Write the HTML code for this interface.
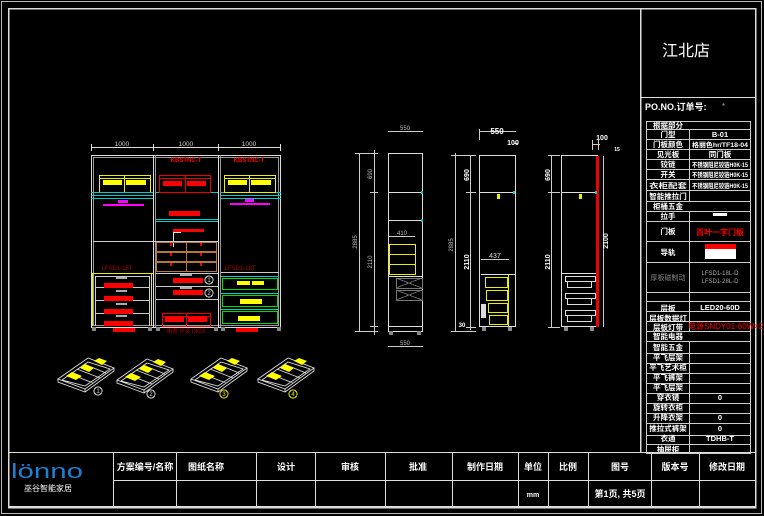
<!DOCTYPE html>
<html><head><meta charset="utf-8"><style>
html,body{margin:0;padding:0;background:#000;}
svg{display:block;}
text{font-family:"Liberation Sans","Noto Sans CJK SC",sans-serif;}
</style></head><body>
<svg width="764" height="516" viewBox="0 0 764 516" xmlns="http://www.w3.org/2000/svg" shape-rendering="crispEdges">
<rect width="764" height="516" fill="#000"/>
<rect x="1.5" y="1.5" width="760" height="512" fill="none" stroke="#bbb" stroke-width="1"/>
<rect x="8.5" y="8.5" width="747" height="499" fill="none" stroke="#ddd" stroke-width="1.5"/>
<line x1="640.5" y1="8" x2="640.5" y2="452" stroke="#ddd" stroke-width="1.5"/>
<line x1="640" y1="97.5" x2="756" y2="97.5" stroke="#ddd"/>
<text x="686" y="56" fill="#fff" font-size="16" text-anchor="middle">江北店</text>
<text x="645" y="110" fill="#fff" font-size="9" font-weight="bold">PO.NO.订单号:</text>
<text x="722" y="109" fill="#aaa" font-size="8">*</text>

<g stroke="#ccc" stroke-width="0.8" fill="none">
<rect x="646.5" y="121.5" width="104" height="332"/>
</g>
<g stroke="#ccc" stroke-width="0.8">
<line x1="646" y1="129.5" x2="750" y2="129.5"/><line x1="646" y1="139.5" x2="750" y2="139.5"/><line x1="646" y1="149.5" x2="750" y2="149.5"/><line x1="646" y1="159.5" x2="750" y2="159.5"/><line x1="646" y1="169.5" x2="750" y2="169.5"/><line x1="646" y1="179.5" x2="750" y2="179.5"/><line x1="646" y1="190.5" x2="750" y2="190.5"/><line x1="646" y1="201.5" x2="750" y2="201.5"/><line x1="646" y1="211.5" x2="750" y2="211.5"/><line x1="646" y1="221.5" x2="750" y2="221.5"/><line x1="646" y1="241.5" x2="750" y2="241.5"/><line x1="646" y1="262.5" x2="750" y2="262.5"/><line x1="646" y1="292.5" x2="750" y2="292.5"/><line x1="646" y1="301.5" x2="750" y2="301.5"/><line x1="646" y1="311.5" x2="750" y2="311.5"/><line x1="646" y1="321.5" x2="750" y2="321.5"/><line x1="646" y1="331.5" x2="750" y2="331.5"/><line x1="646" y1="341.5" x2="750" y2="341.5"/><line x1="646" y1="353.5" x2="750" y2="353.5"/><line x1="646" y1="363.5" x2="750" y2="363.5"/><line x1="646" y1="373.5" x2="750" y2="373.5"/><line x1="646" y1="383.5" x2="750" y2="383.5"/><line x1="646" y1="393.5" x2="750" y2="393.5"/><line x1="646" y1="403.5" x2="750" y2="403.5"/><line x1="646" y1="413.5" x2="750" y2="413.5"/><line x1="646" y1="423.5" x2="750" y2="423.5"/><line x1="646" y1="435.5" x2="750" y2="435.5"/><line x1="646" y1="444.5" x2="750" y2="444.5"/>
<line x1="689.5" y1="129" x2="689.5" y2="201"/><line x1="689.5" y1="211" x2="689.5" y2="331"/><line x1="689.5" y1="341" x2="689.5" y2="453"/>
</g>
<g fill="#fff" font-size="7.5" font-weight="bold" text-anchor="middle">
<text x="668" y="128">根据部分</text>
<text x="668" y="137">门型</text><text x="720" y="137">B-01</text>
<text x="668" y="147">门板颜色</text><text x="720" y="147" font-size="6.5" textLength="56" lengthAdjust="spacingAndGlyphs">格丽色hr/TF18-04</text>
<text x="668" y="157">见光板</text><text x="720" y="157">同门板</text>
<text x="668" y="167">铰链</text><text x="720" y="167" font-size="6.5" textLength="56" lengthAdjust="spacingAndGlyphs">不锈钢阻尼铰链H0K-15</text>
<text x="668" y="177">开关</text><text x="720" y="177" font-size="6.5" textLength="56" lengthAdjust="spacingAndGlyphs">不锈钢阻尼铰链H0K-15</text>
<text x="668" y="188" font-size="7" textLength="38" lengthAdjust="spacingAndGlyphs">衣柜配套</text><text x="720" y="188" font-size="6.5" textLength="56" lengthAdjust="spacingAndGlyphs">不锈钢阻尼铰链H0K-15</text>
<text x="668" y="199">智能推拉门</text>
<text x="668" y="209">柜桶五金</text>
<text x="668" y="219">拉手</text>
<text x="668" y="234">门板</text>
<text x="668" y="255">导轨</text>
<text x="668" y="311">层板</text><text x="720" y="310">LED20-60D</text>
<text x="668" y="321">层板数据灯</text>
<text x="668" y="330">层板灯带</text>
<text x="668" y="339">智能电器</text>
<text x="668" y="350">智能五金</text>
<text x="668" y="360">平飞层架</text>
<text x="668" y="370">平飞艺术柜</text>
<text x="668" y="380">平飞裤架</text>
<text x="668" y="390">平飞层架</text>
<text x="668" y="400">穿衣镜</text><text x="720" y="400">0</text>
<text x="668" y="410">旋转衣柜</text>
<text x="668" y="420">升降衣架</text><text x="720" y="420">0</text>
<text x="668" y="431">推拉式裤架</text><text x="720" y="431">0</text>
<text x="668" y="441">衣通</text><text x="720" y="441">TDHB-T</text>
<text x="668" y="452">抽屉柜</text>
</g>
<rect x="713" y="213" width="14" height="3" fill="#fff"/>
<text x="720" y="235" fill="#f00" font-size="8" font-weight="bold" text-anchor="middle">百叶一字门板</text>
<rect x="705" y="244" width="31" height="5" fill="#f00"/>
<rect x="705" y="249" width="31" height="10" fill="#fff"/>
<text x="668" y="280" fill="#888" font-size="7" text-anchor="middle">厚板磁制动</text>
<text x="720" y="275" fill="#aaa" font-size="6" text-anchor="middle">LFSD1-18L-D</text>
<text x="720" y="283" fill="#aaa" font-size="6" text-anchor="middle">LFSD1-28L-D</text>
<text x="688" y="329" fill="#f00" font-size="8">电源SNDY01-60W×2</text>

<g stroke="#ddd" stroke-width="1" fill="none">
<rect x="8.5" y="452.5" width="747" height="54"/>
<line x1="113" y1="480.5" x2="755" y2="480.5"/>
<line x1="113.5" y1="452" x2="113.5" y2="506"/><line x1="176.5" y1="452" x2="176.5" y2="506"/><line x1="256.5" y1="452" x2="256.5" y2="506"/><line x1="315.5" y1="452" x2="315.5" y2="506"/><line x1="385.5" y1="452" x2="385.5" y2="506"/><line x1="452.5" y1="452" x2="452.5" y2="506"/><line x1="518.5" y1="452" x2="518.5" y2="506"/><line x1="548.5" y1="452" x2="548.5" y2="506"/><line x1="588.5" y1="452" x2="588.5" y2="506"/><line x1="651.5" y1="452" x2="651.5" y2="506"/><line x1="699.5" y1="452" x2="699.5" y2="506"/>
</g>
<g fill="#fff" font-size="9" font-weight="bold" text-anchor="middle">
<text x="145" y="470">方案编号/名称</text><text x="206" y="470">图纸名称</text><text x="286" y="470">设计</text><text x="350" y="470">审核</text><text x="418" y="470">批准</text><text x="485" y="470">制作日期</text><text x="533" y="470">单位</text><text x="568" y="470">比例</text><text x="620" y="470">图号</text><text x="675" y="470">版本号</text><text x="727" y="470">修改日期</text>
<text x="533" y="497" font-size="7">mm</text><text x="620" y="497">第1页, 共5页</text>
</g>
<text x="11" y="478" fill="#1e7fd0" font-size="20" textLength="72" lengthAdjust="spacingAndGlyphs">lönno</text>
<text x="48" y="491" fill="#fff" font-size="8" text-anchor="middle">巫谷智能家居</text>

<g stroke="#ddd" stroke-width="0.8">
<line x1="91" y1="147.5" x2="281" y2="147.5"/>
<line x1="91.5" y1="144" x2="91.5" y2="151"/><line x1="153.5" y1="144" x2="153.5" y2="151"/><line x1="218.5" y1="144" x2="218.5" y2="151"/><line x1="280.5" y1="144" x2="280.5" y2="151"/>
</g>
<g fill="#ccc" font-size="6.5" text-anchor="middle"><text x="122" y="146">1000</text><text x="186" y="146">1000</text><text x="249" y="146">1000</text></g>
<g fill="none" stroke="#ddd" stroke-width="1">
<rect x="91.5" y="155.5" width="189" height="172"/>
<rect x="93.5" y="157.5" width="185" height="168" stroke="#999"/>
<line x1="153.5" y1="155" x2="153.5" y2="327"/><line x1="155.5" y1="155" x2="155.5" y2="327" stroke="#999"/>
<line x1="218.5" y1="155" x2="218.5" y2="327"/><line x1="220.5" y1="155" x2="220.5" y2="327" stroke="#999"/>
</g>
<g fill="none" stroke="#ee0" stroke-width="1"><rect x="99.5" y="175.5" width="51" height="17"/><line x1="124.5" y1="175" x2="124.5" y2="192"/><line x1="99" y1="178.5" x2="150" y2="178.5"/></g>
<rect x="103" y="180" width="19" height="5" fill="#ff0"/><rect x="126" y="180" width="20" height="5" fill="#ff0"/>
<g stroke="#0cc" stroke-width="1"><line x1="91" y1="192.5" x2="153" y2="192.5"/><line x1="91" y1="195.5" x2="153" y2="195.5"/><line x1="91" y1="198.5" x2="153" y2="198.5"/>
<line x1="221" y1="192.5" x2="281" y2="192.5"/><line x1="221" y1="195.5" x2="281" y2="195.5"/><line x1="221" y1="198.5" x2="281" y2="198.5"/>
<line x1="156" y1="192.5" x2="218" y2="192.5"/><line x1="156" y1="219.5" x2="218" y2="219.5"/><line x1="156" y1="221.5" x2="218" y2="221.5"/></g>
<rect x="118" y="200" width="10" height="3" fill="#f0f"/><rect x="103" y="204" width="41" height="2" fill="#f0f"/>
<rect x="245" y="199" width="9" height="3" fill="#f0f"/><rect x="230" y="203" width="40" height="2" fill="#f0f"/>
<text x="186" y="162" fill="#f00" font-size="6" font-weight="bold" text-anchor="middle">KBSTNC-T</text>
<text x="249" y="162" fill="#f00" font-size="6" font-weight="bold" text-anchor="middle">KBSTNC-T</text>
<g fill="none" stroke="#e00" stroke-width="1"><rect x="159.5" y="175.5" width="51" height="17"/><line x1="185.5" y1="175" x2="185.5" y2="192"/><line x1="159" y1="178.5" x2="210" y2="178.5"/></g>
<rect x="163" y="181" width="19" height="5" fill="#f00"/><rect x="187" y="181" width="19" height="5" fill="#f00"/>
<rect x="169" y="211" width="31" height="5" fill="#f00"/>
<rect x="173" y="229" width="31" height="3" fill="#f00"/>
<path d="M173.5 247 V232.5 H181" stroke="#ddd" fill="none"/>
<g fill="none" stroke="#ee0" stroke-width="1"><rect x="224.5" y="175.5" width="51" height="17"/><line x1="249.5" y1="175" x2="249.5" y2="192"/><line x1="224" y1="178.5" x2="275" y2="178.5"/></g>
<rect x="228" y="180" width="19" height="5" fill="#ff0"/><rect x="251" y="180" width="20" height="5" fill="#ff0"/>
<g fill="none" stroke="#b8743a" stroke-width="1.2"><rect x="156.5" y="242.5" width="60" height="9"/><rect x="156.5" y="252.5" width="60" height="9"/><rect x="156.5" y="262.5" width="60" height="9"/><line x1="186.5" y1="242" x2="186.5" y2="272"/></g>
<g fill="#e00"><rect x="170" y="243" width="2" height="3"/><rect x="200" y="243" width="2" height="3"/><rect x="170" y="253" width="2" height="3"/><rect x="200" y="253" width="2" height="3"/><rect x="170" y="263" width="2" height="3"/><rect x="200" y="263" width="2" height="3"/></g>
<g stroke="#ccc" stroke-width="1"><line x1="93" y1="241.5" x2="218" y2="241.5"/><line x1="156" y1="273.5" x2="218" y2="273.5"/><line x1="156" y1="286.5" x2="218" y2="286.5"/><line x1="156" y1="299.5" x2="218" y2="299.5"/><line x1="221" y1="272.5" x2="279" y2="272.5"/></g>
<rect x="173" y="278" width="30" height="5" fill="#f00"/><rect x="173" y="290" width="30" height="5" fill="#f00"/>
<rect x="180" y="274" width="12" height="2" fill="#aaa"/><rect x="180" y="287" width="12" height="2" fill="#aaa"/>
<g fill="none" stroke="#ddd"><circle cx="209" cy="280" r="4"/><circle cx="209" cy="293" r="4"/></g>
<g fill="#ddd" font-size="6" text-anchor="middle"><text x="209" y="282">1</text><text x="209" y="295">2</text></g>
<g fill="none" stroke="#e00" stroke-width="1"><rect x="162.5" y="313.5" width="48" height="13"/><line x1="186.5" y1="313" x2="186.5" y2="327"/><line x1="162" y1="316.5" x2="210" y2="316.5"/></g>
<rect x="165" y="317" width="19" height="5" fill="#f00"/><rect x="188" y="317" width="19" height="5" fill="#f00"/>
<text x="186" y="333" fill="#a00" font-size="5.5" text-anchor="middle">电表 开关 DK06</text>
<text x="117" y="270" fill="#a00" font-size="6" text-anchor="middle">LFSD1-18T</text>
<text x="240" y="270" fill="#a00" font-size="6" text-anchor="middle">LFSD1-18T</text>
<g fill="none" stroke="#ee0" stroke-width="1.2"><line x1="91" y1="273.5" x2="153" y2="273.5"/><line x1="92.5" y1="273" x2="92.5" y2="326"/><line x1="151.5" y1="273" x2="151.5" y2="326"/></g>
<g stroke="#ccc" stroke-width="1"><line x1="95" y1="276.5" x2="150" y2="276.5"/><line x1="95" y1="287.5" x2="150" y2="287.5"/><line x1="95" y1="300.5" x2="150" y2="300.5"/><line x1="95" y1="313.5" x2="150" y2="313.5"/><line x1="95.5" y1="276" x2="95.5" y2="326"/><line x1="149.5" y1="276" x2="149.5" y2="326"/></g>
<g fill="#f00"><rect x="104" y="283" width="29" height="5"/><rect x="104" y="296" width="29" height="5"/><rect x="104" y="309" width="29" height="5"/><rect x="104" y="321" width="29" height="5"/></g>
<g fill="#aaa"><rect x="116" y="277" width="11" height="2"/><rect x="116" y="290" width="11" height="2"/><rect x="116" y="303" width="11" height="2"/><rect x="116" y="315" width="11" height="2"/></g>
<g fill="none" stroke="#0d0" stroke-width="1.2"><rect x="222.5" y="278.5" width="55" height="11"/><rect x="222.5" y="295.5" width="55" height="11"/><rect x="222.5" y="311.5" width="55" height="12"/></g>
<g stroke="#0cc" stroke-width="1.2"><line x1="221" y1="276.5" x2="279" y2="276.5"/><line x1="221" y1="293.5" x2="279" y2="293.5"/><line x1="221" y1="309.5" x2="279" y2="309.5"/></g>
<g fill="#ff0"><rect x="237" y="281" width="13" height="4"/><rect x="252" y="281" width="12" height="4"/><rect x="240" y="299" width="22" height="5"/><rect x="238" y="316" width="22" height="5"/></g>
<g fill="#888"><rect x="92" y="327" width="4" height="4"/><rect x="148" y="327" width="4" height="4"/><rect x="156" y="327" width="4" height="4"/><rect x="214" y="327" width="4" height="4"/><rect x="221" y="327" width="4" height="4"/><rect x="277" y="327" width="4" height="4"/></g>
<rect x="113" y="328" width="22" height="4" fill="#f00"/><rect x="236" y="328" width="22" height="4" fill="#f00"/>

<g stroke="#ccc" stroke-width="0.8" fill="none">
<line x1="388" y1="131.5" x2="423" y2="131.5"/><line x1="388" y1="346.5" x2="423" y2="346.5"/>
<line x1="359.5" y1="153" x2="359.5" y2="332"/><line x1="374.5" y1="150" x2="374.5" y2="335"/>
<line x1="355" y1="153.5" x2="378" y2="153.5"/><line x1="355" y1="331.5" x2="378" y2="331.5"/><line x1="370" y1="192.5" x2="378" y2="192.5"/><line x1="370" y1="326.5" x2="378" y2="326.5"/>
<line x1="389" y1="236.5" x2="415" y2="236.5"/>
</g>
<g fill="#bbb" font-size="6" text-anchor="middle"><text x="405" y="130">550</text><text x="405" y="345">550</text><text x="402" y="235">410</text></g>
<g fill="#bbb" font-size="6" text-anchor="middle">
<text transform="translate(357,242) rotate(-90)">2885</text>
<text transform="translate(372,174) rotate(-90)">690</text>
<text transform="translate(372,262) rotate(-90)">2110</text>
</g>
<g stroke="#ddd" stroke-width="1" fill="none"><rect x="388.5" y="153.5" width="34" height="178"/><line x1="388" y1="192.5" x2="423" y2="192.5"/><line x1="388" y1="220.5" x2="423" y2="220.5"/><line x1="388" y1="326.5" x2="423" y2="326.5"/><line x1="388" y1="276.5" x2="423" y2="276.5"/></g>
<rect x="421" y="191" width="2" height="3" fill="#0cc"/><rect x="421" y="219" width="2" height="3" fill="#0cc"/>
<g fill="none" stroke="#ee0" stroke-width="1.3"><rect x="389.5" y="244.5" width="26" height="30"/><line x1="389" y1="254.5" x2="415" y2="254.5"/><line x1="389" y1="264.5" x2="415" y2="264.5"/></g>
<g fill="none" stroke="#777" stroke-width="0.8"><rect x="396.5" y="278.5" width="26" height="10"/><path d="M396 278 L422 288 M422 278 L396 288"/><rect x="396.5" y="290.5" width="26" height="10"/><path d="M396 290 L422 300 M422 290 L396 300"/></g>

<g stroke="#ccc" stroke-width="0.8" fill="none">
<line x1="479" y1="131.5" x2="516" y2="131.5"/><line x1="479.5" y1="129" x2="479.5" y2="140"/><line x1="514" y1="143.5" x2="518" y2="143.5"/>
<line x1="455.5" y1="153" x2="455.5" y2="332"/><line x1="470.5" y1="155" x2="470.5" y2="330"/>
<line x1="451" y1="155.5" x2="476" y2="155.5"/><line x1="451" y1="331.5" x2="476" y2="331.5"/><line x1="466" y1="192.5" x2="476" y2="192.5"/><line x1="466" y1="327.5" x2="476" y2="327.5"/>
<line x1="481" y1="259.5" x2="509" y2="259.5"/>
</g>
<g fill="#fff" font-size="8" text-anchor="middle" font-weight="bold"><text x="497" y="134">550</text><text x="513" y="145" font-size="7">100</text>
<text transform="translate(469,175) rotate(-90)" font-size="7">690</text><text transform="translate(469,262) rotate(-90)" font-size="7">2110</text><text x="462" y="327" font-size="6">30</text></g>
<text transform="translate(453,245) rotate(-90)" fill="#bbb" font-size="6" text-anchor="middle">2885</text>
<text x="495" y="258" fill="#ddd" font-size="7" text-anchor="middle">437</text>
<g stroke="#ddd" stroke-width="1" fill="none"><rect x="479.5" y="155.5" width="36" height="171"/><line x1="479" y1="192.5" x2="516" y2="192.5"/><line x1="481" y1="274.5" x2="516" y2="274.5"/></g>
<rect x="513" y="191" width="2" height="3" fill="#0cc"/><rect x="497" y="194" width="3" height="5" fill="#ee0"/>
<g fill="none" stroke="#ee0" stroke-width="1.3"><rect x="485.5" y="277.5" width="22" height="10"/><rect x="486.5" y="290.5" width="21" height="10"/><rect x="488.5" y="303.5" width="19" height="9"/><rect x="489.5" y="315.5" width="18" height="9"/><line x1="508.5" y1="275" x2="508.5" y2="326"/></g>
<rect x="481" y="304" width="5" height="14" fill="#ddd"/>
<g fill="#888"><rect x="482" y="327" width="4" height="4"/><rect x="508" y="327" width="4" height="4"/><rect x="389" y="331" width="4" height="4"/><rect x="417" y="331" width="4" height="4"/></g>

<g stroke="#ccc" stroke-width="0.8" fill="none">
<line x1="551.5" y1="156" x2="551.5" y2="327"/><line x1="603.5" y1="156" x2="603.5" y2="327"/>
<line x1="548" y1="155.5" x2="560" y2="155.5"/><line x1="548" y1="192.5" x2="560" y2="192.5"/><line x1="548" y1="327.5" x2="560" y2="327.5"/>
<line x1="592.5" y1="140" x2="592.5" y2="150"/><line x1="598.5" y1="140" x2="598.5" y2="150"/><line x1="592" y1="144.5" x2="600" y2="144.5"/>
</g>
<g fill="#fff" font-size="7" text-anchor="middle" font-weight="bold"><text x="602" y="140">100</text>
<text transform="translate(550,175) rotate(-90)">690</text><text transform="translate(550,262) rotate(-90)">2110</text><text transform="translate(608,241) rotate(-90)">2100</text><text x="617" y="151" font-size="5">15</text></g>
<g stroke="#ddd" stroke-width="1" fill="none"><rect x="561.5" y="155.5" width="36" height="171"/><line x1="561" y1="192.5" x2="598" y2="192.5"/><line x1="561" y1="273.5" x2="597" y2="273.5"/></g>
<rect x="596" y="156" width="3" height="171" fill="#e00"/>
<rect x="595" y="191" width="2" height="3" fill="#0cc"/><rect x="579" y="194" width="3" height="5" fill="#ee0"/>
<g fill="none" stroke="#ddd" stroke-width="1"><rect x="565.5" y="276.5" width="30" height="5"/><rect x="567.5" y="281.5" width="24" height="6"/><rect x="565.5" y="293.5" width="30" height="5"/><rect x="567.5" y="298.5" width="24" height="6"/><rect x="565.5" y="310.5" width="30" height="5"/><rect x="567.5" y="315.5" width="24" height="6"/></g>
<g fill="#888"><rect x="564" y="327" width="4" height="4"/><rect x="590" y="327" width="4" height="4"/></g>

<g fill="none" stroke="#ddd" stroke-width="0.9" shape-rendering="auto">
<g id="t1" transform="translate(58,358)">
<path d="M0 21 L30 0 L56 10 L27 31 Z M4 22 L30 4 L52 11 L27 28 Z M12 16 L35 25 M19 11 L42 20 M26 6 L48 15"/>
<path d="M0 21 v3 L27 34 v-3 M27 34 L56 13 v-3"/>
</g>
<use href="#t1" x="59" y="1"/><use href="#t1" x="133" y="0"/><use href="#t1" x="200" y="0"/>
</g>
<g fill="#ff0" shape-rendering="auto">
<g id="y1"><polygon points="66,376 72,372 82,376 76,380"/><polygon points="80,368 85,364 94,368 89,372"/><polygon points="94,361 99,358 107,361 102,365"/></g>
<use href="#y1" x="59" y="1"/><use href="#y1" x="133" y="0"/><use href="#y1" x="200" y="0"/>
</g>
<g fill="none" stroke="#ddd"><circle cx="98" cy="391" r="4"/><circle cx="151" cy="394" r="4"/></g>
<g fill="none" stroke="#ee0"><circle cx="224" cy="394" r="4"/><circle cx="293" cy="394" r="4"/></g>
<g font-size="6" text-anchor="middle"><text x="98" y="393" fill="#ddd">1</text><text x="151" y="396" fill="#ddd">2</text><text x="224" y="396" fill="#ee0">3</text><text x="293" y="396" fill="#ee0">4</text></g>
</svg>
</body></html>
